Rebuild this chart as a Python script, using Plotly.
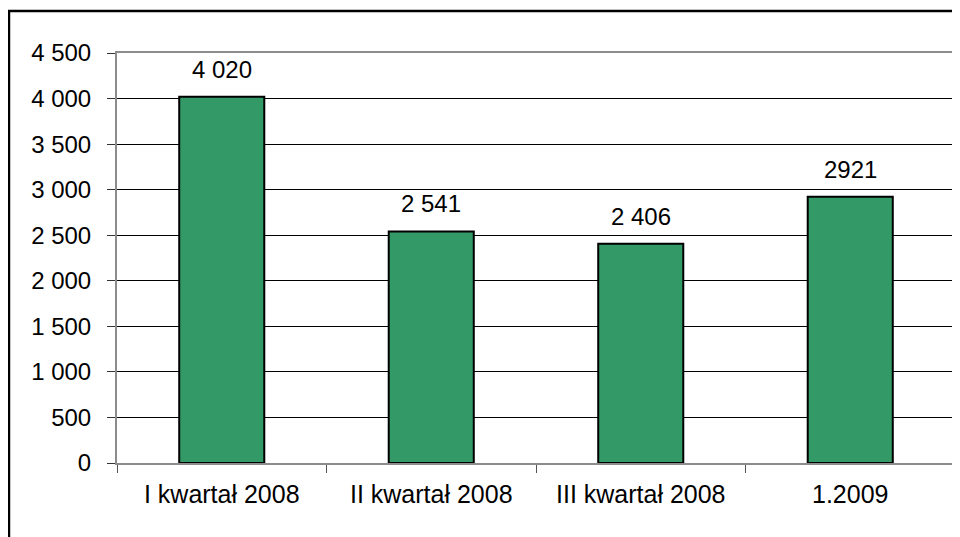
import plotly.graph_objects as go

categories = ["I kwartał 2008", "II kwartał 2008", "III kwartał 2008", "1.2009"]
values = [4020, 2541, 2406, 2921]
value_labels = ["4 020", "2 541", "2 406", "2921"]
y_tickvals = [0, 500, 1000, 1500, 2000, 2500, 3000, 3500, 4000, 4500]
y_ticktext = ["0", "500", "1 000", "1 500", "2 000", "2 500", "3 000", "3 500", "4 000", "4 500"]

FONT = "Liberation Sans, Arial, sans-serif"

fig = go.Figure()
fig.add_trace(go.Bar(
    x=categories, y=values,
    marker=dict(color="#339966", line=dict(color="#000000", width=2)),
    hoverinfo="skip",
))

for i, (v, t) in enumerate(zip(values, value_labels)):
    fig.add_annotation(x=i, y=v, text=t, showarrow=False, yanchor="bottom",
                       yshift=12, font=dict(family=FONT, size=24, color="#000000"))

# outer chart-area border (extends past right/bottom edge of the view)
fig.add_shape(type="rect", xref="paper", yref="paper",
              x0=-0.1289, x1=1.02, y0=-0.25, y1=1.1024,
              line=dict(color="#000000", width=2.5), fillcolor="rgba(0,0,0,0)", layer="above")

fig.update_layout(
    width=952, height=529,
    margin=dict(l=109, r=5, t=45, b=74, autoexpand=False),
    paper_bgcolor="white", plot_bgcolor="white",
    bargap=0.594,
    showlegend=False,
    font=dict(family=FONT, size=24, color="#000000"),
)
fig.update_xaxes(
    type="category", automargin=False,
    showline=True, linecolor="#8c8c8c", linewidth=2, mirror=True,
    ticks="outside", tickson="boundaries", ticklen=8, tickcolor="#555555", tickwidth=1,
    tickfont=dict(family=FONT, size=25, color="#000000"),
    ticklabelstandoff=8,
    showgrid=False,
)
fig.update_yaxes(
    range=[0, 4500], automargin=False,
    tickvals=y_tickvals, ticktext=y_ticktext,
    showline=True, linecolor="#8c8c8c", linewidth=2, mirror=True,
    ticks="outside", ticklen=8, tickcolor="#333333", tickwidth=1,
    tickfont=dict(family=FONT, size=24, color="#000000"),
    ticklabelstandoff=11,
    showgrid=True, gridcolor="#000000", gridwidth=1,
    zeroline=False,
)

fig.write_html("out.html")
